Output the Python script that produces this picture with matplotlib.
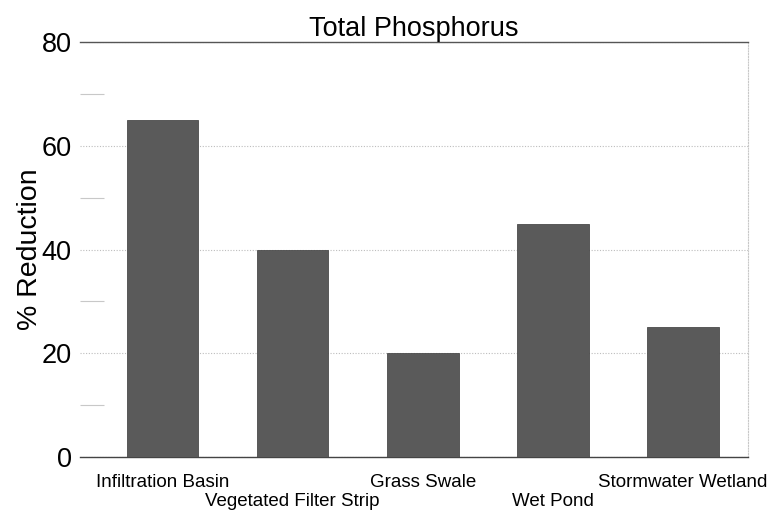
import numpy as np
import matplotlib
matplotlib.use('Agg')
import matplotlib.pyplot as plt
from matplotlib.ticker import MultipleLocator

plt.rcParams['font.family'] = ['Liberation Sans', 'DejaVu Sans']

# data
categories = ['Infiltration Basin', 'Vegetated Filter Strip', 'Grass Swale',
              'Wet Pond', 'Stormwater Wetland']
reduction = [65, 40, 20, 45, 25]
y_ticks = [0, 20, 40, 60, 80]

fig = plt.figure(figsize=(7.82, 5.16), dpi=100)
ax = fig.add_axes([0.1023, 0.1143, 0.8542, 0.8043])

x = np.arange(len(categories))
ax.bar(x, reduction, width=0.55, color='#5a5a5a', edgecolor='#4a4a4a',
       linewidth=0.6, zorder=3)

ax.set_xlim(-0.635, 4.5)
ax.set_ylim(0, 80)
ax.set_yticks(y_ticks)
ax.yaxis.set_minor_locator(MultipleLocator(10))
ax.tick_params(axis='y', which='major', length=0, labelsize=19.5, pad=6)
ax.tick_params(axis='y', which='minor', direction='in', length=17,
               color='#c8c8c8', width=0.8)
ax.grid(axis='y', which='major', linestyle=(0, (1, 1.5)), color='#bdbdbd',
        linewidth=0.8, zorder=0)

ax.set_xticks(x)
ax.set_xticklabels(categories, fontsize=13.5)
ax.tick_params(axis='x', length=0, pad=12)
# stagger every other label down a line
for i, lbl in enumerate(ax.get_xticklabels()):
    if i % 2 == 1:
        lbl.set_y(-0.047)

ax.spines['left'].set_visible(False)
ax.spines['top'].set_color('#555555')
ax.spines['top'].set_linewidth(1.0)
ax.spines['bottom'].set_color('#444444')
ax.spines['bottom'].set_linewidth(1.0)
ax.spines['right'].set_color('#c8c8c8')
ax.spines['right'].set_linestyle((0, (1, 1.5)))
ax.spines['right'].set_linewidth(0.8)

# label sits close against the tick numbers
ax.set_ylabel('% Reduction', fontsize=20.5, labelpad=-1)
ax.set_title('Total Phosphorus', fontsize=19.5, pad=4)

plt.savefig('out.png', dpi=100)
